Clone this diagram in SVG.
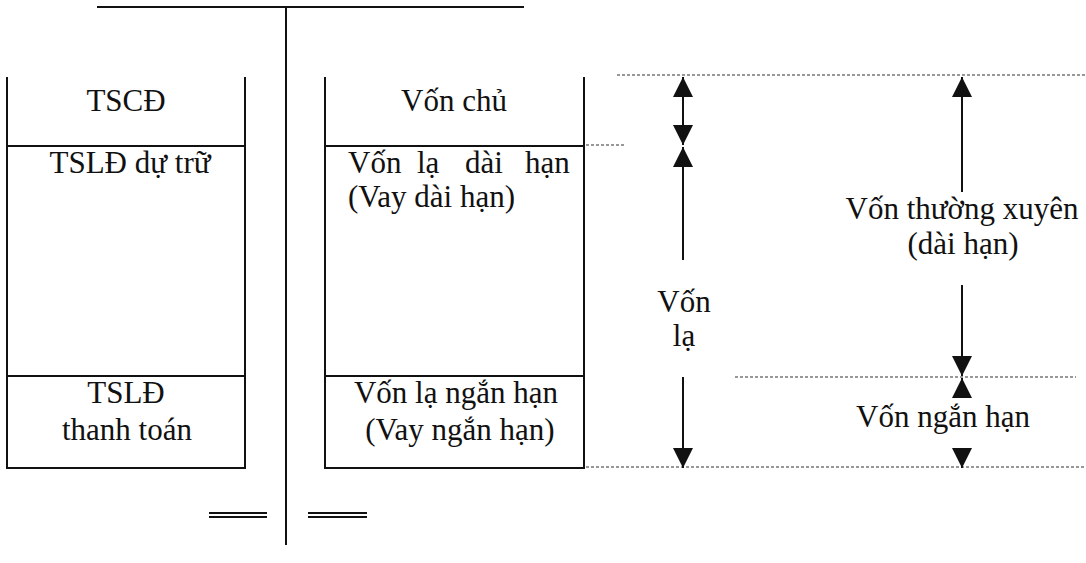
<svg xmlns="http://www.w3.org/2000/svg" width="1086" height="563" viewBox="0 0 1086 563">
<style>
.ln{stroke:#111;stroke-width:2;fill:none}
.dot{stroke:#333;stroke-width:1.2;stroke-dasharray:3 2;fill:none}
.t{font-family:"Liberation Serif","Times New Roman",serif;font-size:31px;fill:#111;text-anchor:middle}
.ar{stroke:#111;stroke-width:2;fill:none}
</style>
<defs>
<marker id="tri" viewBox="0 0 20 20" refX="20" refY="10" markerWidth="20" markerHeight="20" markerUnits="userSpaceOnUse" orient="auto-start-reverse">
<path d="M0,0 L20,10 L0,20 z" fill="#111"/>
</marker>
</defs>
<rect width="1086" height="563" fill="#fff"/>

<g id="frame">
<path class="ln" d="M97,7 H524"/>
<path class="ln" d="M286,7 V545"/>
<path class="ln" d="M209,513 H267 M209,517 H267"/>
<path class="ln" d="M308,513 H367 M308,517 H367"/>
</g>

<g id="node-tscd">
<path class="ln" d="M7,77 V146 M245,77 V146"/>
<text class="t" x="126" y="111">TSCĐ</text>
</g>
<g id="node-tsld-dutru">
<path class="ln" d="M7,146 H245 M7,146 V376 M245,146 V376"/>
<text class="t" x="130" y="173">TSLĐ dự trữ</text>
</g>
<g id="node-tsld-thanhtoan">
<path class="ln" d="M7,376 H245 V468 H7 Z"/>
<text class="t" x="126" y="403">TSLĐ</text>
<text class="t" x="127" y="440">thanh toán</text>
</g>

<g id="node-vonchu">
<path class="ln" d="M325,77 V146 M584,77 V146"/>
<text class="t" x="454" y="111">Vốn chủ</text>
</g>
<g id="node-vonla-daihan">
<path class="ln" d="M325,146 H584 M325,146 V376 M584,146 V376"/>
<text class="t" style="text-anchor:start" y="173"><tspan x="348">Vốn</tspan><tspan x="417">lạ</tspan><tspan x="465">dài</tspan><tspan x="525">hạn</tspan></text>
<text class="t" style="text-anchor:start" x="348" y="207">(Vay dài hạn)</text>
</g>
<g id="node-vonla-nganhan">
<path class="ln" d="M325,376 H584 V468 H325 Z"/>
<text class="t" x="456" y="403">Vốn lạ ngắn hạn</text>
<text class="t" x="460" y="440">(Vay ngắn hạn)</text>
</g>

<g id="guides">
<path class="dot" d="M617,75 H1086"/>
<path class="dot" d="M586,145 H625"/>
<path class="dot" d="M735,377 H1076"/>
<path class="dot" d="M586,467 H1086"/>
</g>

<g id="connectors">
<path class="ar" d="M683,77 V145" marker-start="url(#tri)" marker-end="url(#tri)"/>
<path class="ar" d="M683,147 V260" marker-start="url(#tri)"/>
<path class="ar" d="M683,377 V468" marker-end="url(#tri)"/>
<path class="ar" d="M962,77 V192" marker-start="url(#tri)"/>
<path class="ar" d="M962,285 V376" marker-end="url(#tri)"/>
<path class="ar" d="M962,378 V398" marker-start="url(#tri)"/>
<path class="ar" d="M962,448 V468" marker-end="url(#tri)"/>
</g>

<g id="label-vonla">
<text class="t" x="684" y="312">Vốn</text>
<text class="t" x="684" y="346">lạ</text>
</g>
<g id="label-thuongxuyen">
<text class="t" x="962" y="219">Vốn thường xuyên</text>
<text class="t" x="963" y="254">(dài hạn)</text>
</g>
<g id="label-nganhan">
<text class="t" x="943" y="427">Vốn ngắn hạn</text>
</g>
</svg>
